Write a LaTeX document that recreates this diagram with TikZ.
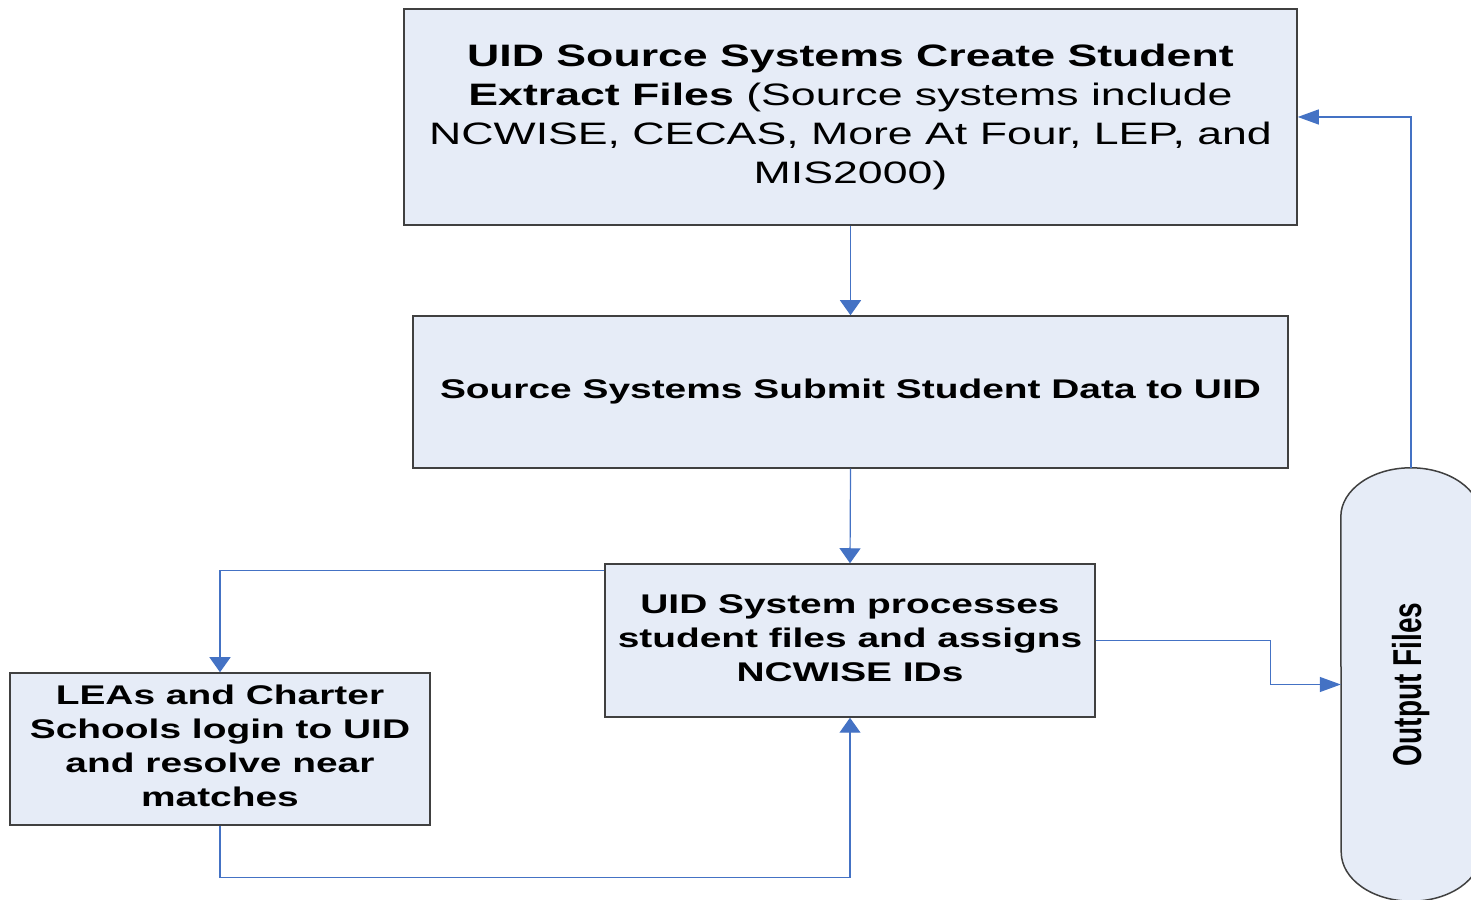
\documentclass[tikz,border=0pt]{standalone}
\usepackage{fontspec}
\setmainfont{Liberation Sans}
\usetikzlibrary{arrows.meta,backgrounds}
\definecolor{boxfill}{RGB}{230,236,247}
\definecolor{boxline}{RGB}{64,64,64}
\definecolor{flowblue}{RGB}{68,114,196}
\newcommand{\widen}[1]{\scalebox{1.44}[1]{#1}}
\tikzset{
  box/.style={draw=boxline, line width=1.5pt, fill=boxfill, inner sep=0pt, align=center},
  vflow/.style={draw=flowblue, line width=1.2pt, -{Triangle[length=15pt,width=21pt]}},
  hflow/.style={draw=flowblue, line width=1.2pt, -{Triangle[length=21pt,width=15pt]}}
}
\begin{document}
\begin{tikzpicture}[x=1pt,y=1pt]
\useasboundingbox (0,0) rectangle (1471,899);

\node [box, minimum width=893pt, minimum height=216pt] (b1) at (850.5,782) {\fontsize{31}{39}\selectfont\widen{\begin{tabular}{@{}c@{}}\bfseries UID Source Systems Create Student\\ \textbf{Extract Files} (Source systems include\\ NCWISE, CECAS, More At Four, LEP, and\\ MIS2000)\end{tabular}}};
\node [box, minimum width=875pt, minimum height=152pt] (b2) at (850.5,507) {\fontsize{27}{34}\selectfont\bfseries\widen{Source Systems Submit Student Data to UID}};
\node [box, minimum width=490pt, minimum height=153pt] (b3) at (850,258.5) {\fontsize{27}{34}\selectfont\widen{\begin{tabular}{@{}c@{}}\bfseries UID System processes\\ \bfseries student files and assigns\\ \bfseries NCWISE IDs\end{tabular}}};
\node [box, minimum width=420pt, minimum height=152pt] (b4) at (220,150) {\fontsize{27}{34}\selectfont\widen{\begin{tabular}{@{}c@{}}\bfseries LEAs and Charter\\ \bfseries Schools login to UID\\ \bfseries and resolve near\\ \bfseries matches\end{tabular}}};
\node [inner sep=0pt, minimum width=140pt, minimum height=433pt] (b5) at (1411,214.5) {\rotatebox{90}{\scalebox{1}[1.44]{\fontsize{28}{30}\selectfont\bfseries Output Files}}};

\begin{scope}[on background layer]
\filldraw [fill=boxfill, draw=boxline, line width=1.5pt] ([yshift=-49pt]b5.north west) arc[start angle=180, end angle=0, x radius=70pt, y radius=49pt] -- ([yshift=49pt]b5.south east) arc[start angle=0, end angle=-180, x radius=70pt, y radius=49pt] -- cycle;
\end{scope}

\draw [vflow] (b1.south) -- (b2.north);
\draw [vflow] (b2.south) -- (b3.north);
\draw [vflow] ([yshift=-7pt]b3.north west) -| (b4.north);
\draw [vflow] (b4.south) -- ++(0,-52) -| (b3.south);
\draw [hflow] (b3.east) -- ++(175,0) |- (b5.west);
\draw [hflow] (b5.north) |- (b1.east);
\end{tikzpicture}
\end{document}
